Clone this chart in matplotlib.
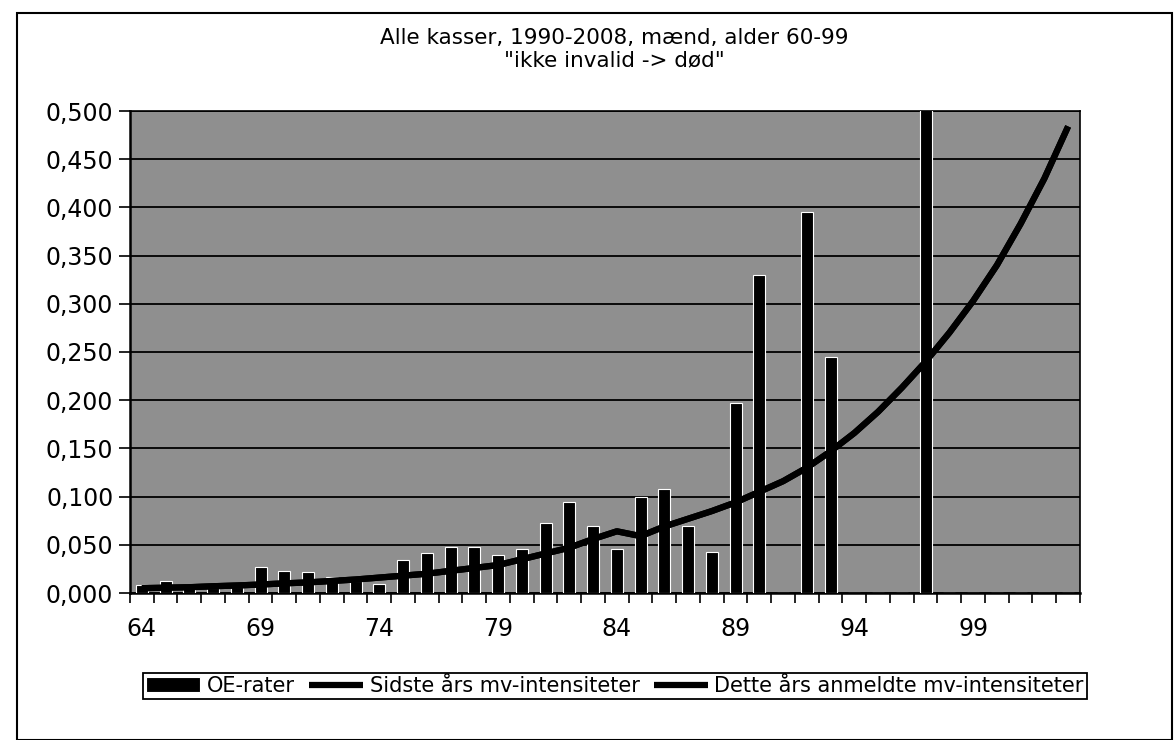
import matplotlib
matplotlib.use("Agg")
import matplotlib.pyplot as plt
from matplotlib.patches import Rectangle

# alder 64..103
ages = list(range(64, 104))
oe_rater = [0.008, 0.012, 0.006, 0.005, 0.006, 0.027, 0.023, 0.022, 0.017, 0.012,
            0.009, 0.034, 0.041, 0.048, 0.048, 0.039, 0.046, 0.073, 0.094, 0.069,
            0.046, 0.100, 0.108, 0.070, 0.043, 0.197, 0.330, 0.0, 0.395, 0.245,
            0.0, 0.0, 0.0, 0.520, 0.0, 0.0, 0.0, 0.0, 0.0, 0.0]
sidste_aar = [0.005, 0.0055, 0.006, 0.007, 0.0078, 0.0088, 0.010, 0.011, 0.0125, 0.014,
              0.016, 0.018, 0.020, 0.023, 0.026, 0.029, 0.035, 0.041, 0.047, 0.056,
              0.064, 0.059, 0.069, 0.077, 0.085, 0.094, 0.105, 0.116, 0.130, 0.147,
              0.166, 0.188, 0.213, 0.240, 0.270, 0.303, 0.340, 0.383, 0.430, 0.484]
dette_aar = list(sidste_aar)

yticks = [0.0, 0.05, 0.1, 0.15, 0.2, 0.25, 0.3, 0.35, 0.4, 0.45, 0.5]
xlabels = [64, 69, 74, 79, 84, 89, 94, 99]

plt.rcParams['font.family'] = ['DejaVu Sans']

fig = plt.figure(figsize=(11.76, 7.4), dpi=100)
ax = fig.add_axes([130/1176, 1 - 593/740, 950/1176, 482/740])
ax.set_facecolor('#8f8f8f')

bars = ax.bar(ages, oe_rater, width=0.5, color='black', edgecolor='white',
              linewidth=0.8, label='OE-rater', zorder=3)
l1, = ax.plot(ages, sidste_aar, color='black', lw=4.5,
              label='Sidste års mv-intensiteter', zorder=4, solid_capstyle='butt')
l2, = ax.plot(ages, dette_aar, color='black', lw=4.5,
              label='Dette års anmeldte mv-intensiteter', zorder=4,
              solid_capstyle='butt')

ax.set_ylim(0, 0.5)
ax.set_xlim(63.5, 103.5)
ax.set_yticks(yticks)
ax.set_yticklabels([f"{v:.3f}".replace('.', ',') for v in yticks], fontsize=17)
ax.yaxis.grid(True, color='black', lw=1.3, zorder=1)
ax.set_axisbelow(True)
ax.tick_params(axis='y', length=8, width=1.2, direction='out', pad=4)

ax.set_xticks(xlabels)
ax.set_xticklabels([str(v) for v in xlabels], fontsize=17)
ax.set_xticks([a - 0.5 for a in ages] + [103.5], minor=True)
ax.tick_params(axis='x', which='major', length=0, pad=17)
ax.tick_params(axis='x', which='minor', length=7, width=1.2, direction='out')

for side in ['top', 'right']:
    ax.spines[side].set_color('black')
    ax.spines[side].set_linewidth(1.2)
for side in ['left', 'bottom']:
    ax.spines[side].set_linewidth(1.8)

fig.text(614/1176, 1 - 38/740, 'Alle kasser, 1990-2008, mænd, alder 60-99',
         ha='center', va='center', fontsize=15.5)
fig.text(614/1176, 1 - 60/740, '"ikke invalid -> død"',
         ha='center', va='center', fontsize=15.5)

leg = fig.legend([bars, l1, l2],
                 ['OE-rater', 'Sidste års mv-intensiteter',
                  'Dette års anmeldte mv-intensiteter'],
                 loc='center', bbox_to_anchor=(615/1176, 1 - 686/740), ncol=3,
                 fontsize=15, frameon=True, fancybox=False, handlelength=2.6,
                 handletextpad=0.3, columnspacing=0.7, borderpad=0.15,
                 framealpha=1)
leg.get_frame().set_edgecolor('black')
leg.get_frame().set_linewidth(1.3)

fig.patches.append(Rectangle((17/1176, 0), 1155/1176, 1 - 13/740,
                             transform=fig.transFigure, fill=False,
                             edgecolor='black', lw=1.5))

fig.savefig('out.png', dpi=100)
